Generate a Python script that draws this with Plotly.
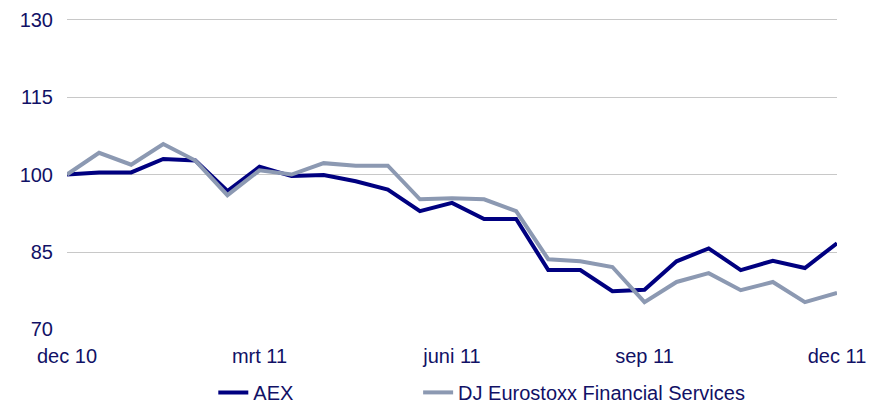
import plotly.graph_objects as go

idx = list(range(25))
aex = [100.0, 100.4, 100.4, 103.0, 102.7, 96.8, 101.5, 99.7, 99.9, 98.7, 97.1, 92.9, 94.5,
       91.4, 91.4, 81.5, 81.5, 77.4, 77.7, 83.2, 85.7, 81.5, 83.3, 81.9, 86.7]
dj = [100.0, 104.2, 101.9, 105.9, 102.7, 96.0, 100.8, 100.0, 102.2, 101.7, 101.7, 95.2, 95.4,
      95.2, 92.9, 83.6, 83.2, 82.1, 75.3, 79.2, 80.9, 77.6, 79.2, 75.3, 77.1]
tick_pos = [0, 6, 12, 18, 24]
tick_text = ["dec 10", "mrt 11", "juni 11", "sep 11", "dec 11"]
y_ticks = [70, 85, 100, 115, 130]

navy = "#000080"
grey = "#8C99B2"
txt = "#111166"

fig = go.Figure()
fig.add_trace(go.Scatter(x=idx, y=aex, mode="lines", name="AEX", legend="legend",
                         line=dict(color=navy, width=4)))
fig.add_trace(go.Scatter(x=idx, y=dj, mode="lines", name="DJ Eurostoxx Financial Services",
                         legend="legend2", line=dict(color=grey, width=4)))

leg_common = dict(orientation="h", xanchor="left", y=-0.2, yanchor="middle",
                  font=dict(size=20, color=txt), bgcolor="rgba(0,0,0,0)")
fig.update_layout(
    width=875, height=406,
    margin=dict(l=67, r=38, t=18, b=76, autoexpand=False),
    paper_bgcolor="white", plot_bgcolor="white",
    font=dict(family="Liberation Sans, Arial", size=20, color=txt),
    showlegend=True,
    legend=dict(x=0.19, **leg_common),
    legend2=dict(x=0.456, **leg_common),
)
fig.update_xaxes(range=[0, 24], tickvals=tick_pos, ticktext=tick_text,
                 showgrid=False, zeroline=False, showline=False,
                 ticks="outside", ticklen=8, tickcolor="rgba(0,0,0,0)")
fig.update_yaxes(range=[69.9, 130.3], tickvals=y_ticks, showgrid=True,
                 gridcolor="#C8C8C8", gridwidth=1, zeroline=False, showline=False,
                 ticks="outside", ticklen=9, tickcolor="rgba(0,0,0,0)")

fig.write_html("out.html", config={"displayModeBar": False},
               post_script="document.body.style.margin='0';document.body.style.overflow='hidden';")
